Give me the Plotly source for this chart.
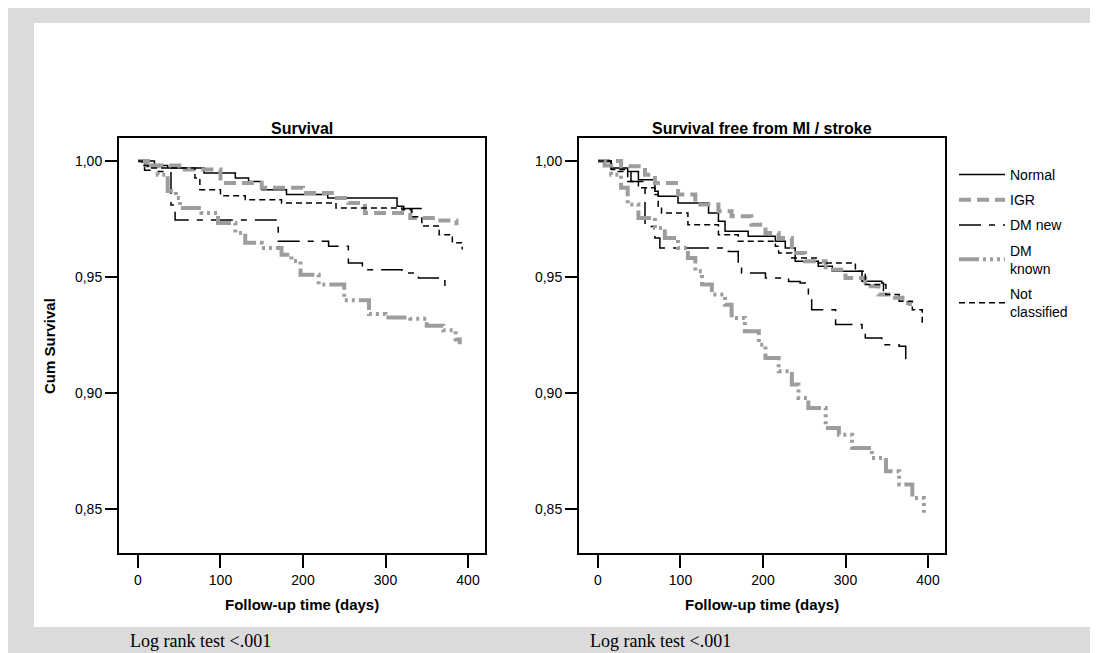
import plotly.graph_objects as go

# ---------------- data ----------------
series_names = ["Normal", "IGR", "DM new", "DM<br>known", "Not<br>classified"]

# Left panel: Survival
left_normal_t = [0, 20, 36, 80, 118, 134, 150, 180, 230, 314, 322, 344]
left_normal_s = [1.0, 0.998, 0.997, 0.9948, 0.9927, 0.9912, 0.9876, 0.9855, 0.984, 0.9805, 0.9795, 0.9795]

left_igr_t = [0, 15, 57, 100, 150, 200, 235, 255, 275, 330, 360, 386]
left_igr_s = [1.0, 0.998, 0.9963, 0.9905, 0.9884, 0.9862, 0.984, 0.9819, 0.9776, 0.9754, 0.9743, 0.9723]

left_dmnew_t = [0, 8, 20, 40, 45, 170, 231, 255, 272, 320, 340, 372]
left_dmnew_s = [1.0, 0.996, 0.9955, 0.981, 0.9745, 0.9654, 0.9632, 0.956, 0.9531, 0.9517, 0.9496, 0.943]

left_dmknown_t = [0, 10, 24, 36, 46, 51, 77, 97, 118, 130, 150, 174, 186, 197, 219, 250, 280, 300, 330, 350, 370, 385, 390]
left_dmknown_s = [1.0, 0.998, 0.9941, 0.987, 0.984, 0.9797, 0.9776, 0.9733, 0.969, 0.9647, 0.9625, 0.9596, 0.9569, 0.951, 0.9467, 0.94, 0.934, 0.9325, 0.932, 0.929, 0.927, 0.923, 0.921]

left_nc_t = [0, 5, 12, 69, 75, 100, 130, 174, 240, 320, 332, 344, 365, 381, 393]
left_nc_s = [1.0, 0.998, 0.997, 0.9927, 0.9876, 0.985, 0.9833, 0.9819, 0.9797, 0.979, 0.976, 0.972, 0.9682, 0.9647, 0.9618]

# Right panel: Survival free from MI / stroke
right_normal_t = [0, 16, 36, 49, 69, 73, 97, 134, 146, 154, 182, 215, 227, 239, 267, 284, 320, 344, 346]
right_normal_s = [1.0, 0.997, 0.9955, 0.9919, 0.9869, 0.9848, 0.9819, 0.9776, 0.974, 0.9697, 0.9675, 0.9654, 0.9625, 0.9568, 0.9546, 0.9525, 0.9481, 0.9474, 0.9438]

right_igr_t = [0, 28, 57, 69, 97, 118, 146, 162, 186, 203, 219, 235, 251, 276, 300, 324, 340, 357, 369, 378]
right_igr_s = [1.0, 0.9977, 0.9941, 0.9905, 0.9855, 0.9812, 0.9783, 0.9762, 0.9725, 0.969, 0.9668, 0.9603, 0.9568, 0.9531, 0.9496, 0.946, 0.9424, 0.941, 0.9388, 0.9375]

right_dmnew_t = [0, 16, 40, 57, 69, 75, 158, 170, 174, 203, 231, 245, 255, 259, 288, 320, 324, 344, 365, 373]
right_dmnew_s = [1.0, 0.9955, 0.9912, 0.9718, 0.9668, 0.9625, 0.961, 0.956, 0.9517, 0.9496, 0.948, 0.9474, 0.9402, 0.9359, 0.9295, 0.9266, 0.9237, 0.9208, 0.9201, 0.9143]

right_dmknown_t = [0, 8, 16, 28, 36, 49, 69, 81, 97, 109, 118, 126, 138, 154, 162, 178, 195, 203, 219, 235, 243, 255, 276, 292, 308, 332, 349, 365, 381, 395]
right_dmknown_s = [1.0, 0.998, 0.9941, 0.9884, 0.9812, 0.9754, 0.9711, 0.9668, 0.9625, 0.9582, 0.9525, 0.9467, 0.9424, 0.938, 0.9323, 0.9266, 0.9208, 0.9151, 0.9093, 0.9036, 0.8978, 0.8935, 0.8849, 0.882, 0.8763, 0.872, 0.8662, 0.8605, 0.8547, 0.8483]

right_nc_t = [0, 16, 36, 49, 69, 73, 77, 109, 146, 170, 215, 219, 235, 267, 312, 324, 349, 365, 381, 393]
right_nc_s = [1.0, 0.9963, 0.9912, 0.9884, 0.9855, 0.9805, 0.9776, 0.9725, 0.9682, 0.9654, 0.9632, 0.9603, 0.9582, 0.956, 0.9525, 0.9467, 0.9424, 0.9395, 0.9359, 0.9295]

x_tick_vals = [0, 100, 200, 300, 400]
x_tick_text = ["0", "100", "200", "300", "400"]
y_tick_vals = [0.85, 0.90, 0.95, 1.00]
y_tick_text = ["0,85", "0,90", "0,95", "1,00"]

panel_titles = ["Survival", "Survival free from MI / stroke"]
x_title = "Follow-up time (days)"
y_title = "Cum Survival"
note_text = "Log rank test &lt;.001"

# ---------------- styling ----------------
W, H = 1098, 653
GRAY = "#9d9d9d"
styles = [
    dict(color="black", width=1.5, dash="solid"),
    dict(color=GRAY, width=4, dash="12px,6px"),
    dict(color="black", width=1.5, dash="22px,8px,6px,8px"),
    dict(color=GRAY, width=4, dash="20px,4px,3px,4px,3px,4px,3px,4px"),
    dict(color="black", width=1.5, dash="6px,4px"),
]

left_data = [(left_normal_t, left_normal_s), (left_igr_t, left_igr_s), (left_dmnew_t, left_dmnew_s),
             (left_dmknown_t, left_dmknown_s), (left_nc_t, left_nc_s)]
right_data = [(right_normal_t, right_normal_s), (right_igr_t, right_igr_s), (right_dmnew_t, right_dmnew_s),
              (right_dmknown_t, right_dmknown_s), (right_nc_t, right_nc_s)]


def px_x(p):
    return p / W


def px_y(p):
    return 1 - p / H


fig = go.Figure()
for i, (t, s) in enumerate(left_data):
    fig.add_trace(go.Scatter(x=t, y=s, mode="lines", line=dict(shape="hv", **styles[i]),
                             name=series_names[i], legendgroup=str(i), showlegend=False,
                             xaxis="x", yaxis="y", hoverinfo="skip"))
for i, (t, s) in enumerate(right_data):
    fig.add_trace(go.Scatter(x=t, y=s, mode="lines", line=dict(shape="hv", **styles[i]),
                             name=series_names[i], legendgroup=str(i), showlegend=True,
                             xaxis="x2", yaxis="y2", hoverinfo="skip"))

FONT = "Liberation Sans, Arial, sans-serif"
x_range = [-23, 420.6]
y_range = [0.831, 1.0099]

frame_y = [px_y(545), px_y(130)]
left_dom = [px_x(111), px_x(477)]
right_dom = [px_x(571), px_x(937)]

axis_common = dict(showline=True, linecolor="black", linewidth=2, mirror=True, ticks="outside",
                   tickcolor="black", tickwidth=1.5, showgrid=False, zeroline=False,
                   tickfont=dict(family=FONT, size=14, color="black"), automargin=False)

fig.update_layout(
    width=W, height=H,
    margin=dict(l=0, r=0, t=0, b=0),
    paper_bgcolor="#dbdbdb",
    plot_bgcolor="white",
    xaxis=dict(domain=left_dom, range=x_range, tickvals=x_tick_vals, ticktext=x_tick_text,
               ticklen=13, anchor="y", **axis_common),
    yaxis=dict(domain=frame_y, range=y_range, tickvals=y_tick_vals, ticktext=y_tick_text,
               ticklen=12, anchor="x", **axis_common),
    xaxis2=dict(domain=right_dom, range=x_range, tickvals=x_tick_vals, ticktext=x_tick_text,
                ticklen=13, anchor="y2", **axis_common),
    yaxis2=dict(domain=frame_y, range=y_range, tickvals=y_tick_vals, ticktext=y_tick_text,
                ticklen=12, anchor="x2", **axis_common),
    showlegend=True,
    legend=dict(x=px_x(946), y=px_y(151), xanchor="left", yanchor="top",
                font=dict(family=FONT, size=14, color="black"), bgcolor="rgba(0,0,0,0)",
                traceorder="grouped", tracegroupgap=4, itemwidth=46, valign="middle"),
    shapes=[dict(type="rect", xref="paper", yref="paper", x0=px_x(26), x1=px_x(1091),
                 y0=px_y(619), y1=px_y(15), fillcolor="white", line=dict(width=0), layer="below")],
)

ann = []
for dom, title in zip([left_dom, right_dom], panel_titles):
    cx = (dom[0] + dom[1]) / 2
    ann.append(dict(text="<b>%s</b>" % title, x=cx, y=px_y(120), xref="paper", yref="paper",
                    xanchor="center", yanchor="middle", showarrow=False,
                    font=dict(family=FONT, size=16, color="black")))
    ann.append(dict(text="<b>%s</b>" % x_title, x=cx, y=px_y(596), xref="paper", yref="paper",
                    xanchor="center", yanchor="middle", showarrow=False,
                    font=dict(family=FONT, size=15, color="black")))
ann.append(dict(text="<b>%s</b>" % y_title, x=px_x(41), y=px_y(338), xref="paper", yref="paper",
                xanchor="center", yanchor="middle", textangle=-90, showarrow=False,
                font=dict(family=FONT, size=15, color="black")))
for xl in [120, 580]:
    ann.append(dict(text=note_text, x=px_x(xl), y=px_y(633), xref="paper", yref="paper",
                    xanchor="left", yanchor="middle", showarrow=False,
                    font=dict(family="Liberation Serif, serif", size=18, color="black")))
fig.update_layout(annotations=ann)

fig.write_html("out.html")
